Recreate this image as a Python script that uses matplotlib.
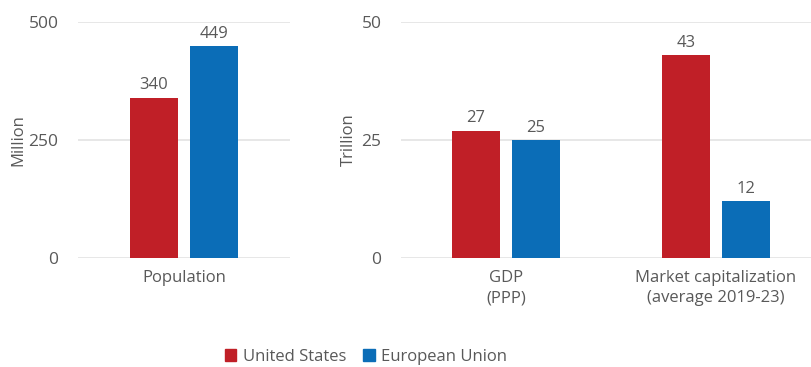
import matplotlib.pyplot as plt
import numpy as np
from matplotlib.patches import Patch

# Values
pop_categories = ["Population"]
pop_us = [340]
pop_eu = [449]

fin_categories = ["GDP\n(PPP)", "Market capitalization\n(average 2019-23)"]
fin_us = [27, 43]
fin_eu = [25, 12]

series_names = ["United States", "European Union"]

RED = "#C01F27"
BLUE = "#0B6DB7"
GRID = "#E3E3E3"
TEXT = "#595959"

plt.rcParams["font.family"] = ["Open Sans", "DejaVu Sans"]
FS = 12

fig = plt.figure(figsize=(8.11, 3.67), dpi=100)

W, H = 811, 367
ax1 = fig.add_axes([78 / W, (H - 258) / H, 212 / W, 236 / H])
ax2 = fig.add_axes([401 / W, (H - 258) / H, 420 / W, 236 / H])

width = 0.225
offset = 0.143


def draw(ax, cats, us, eu, ymax, yticks, ylabel, xlim):
    x = np.arange(len(cats))
    b1 = ax.bar(x - offset, us, width, color=RED, zorder=3)
    b2 = ax.bar(x + offset, eu, width, color=BLUE, zorder=3)
    for bars, vals in ((b1, us), (b2, eu)):
        for rect, v in zip(bars, vals):
            ax.annotate(f"{v}", (rect.get_x() + rect.get_width() / 2, v),
                        xytext=(0, 3), textcoords="offset points",
                        ha="center", va="bottom", color=TEXT, fontsize=FS)
    ax.set_ylim(0, ymax)
    ax.set_xlim(*xlim)
    ax.set_yticks(yticks)
    ax.set_xticks(x)
    ax.set_xticklabels(cats, color=TEXT, fontsize=FS, linespacing=1.3)
    ax.tick_params(axis="y", length=0, colors=TEXT, labelsize=FS + 0.5, pad=14)
    ax.tick_params(axis="x", length=0, colors=TEXT, pad=9)
    ax.grid(axis="y", color=GRID, linewidth=1.2, zorder=0)
    for s in ax.spines.values():
        s.set_visible(False)
    ax.set_ylabel(ylabel, color=TEXT, fontsize=FS)
    ax.set_facecolor("none")


draw(ax1, pop_categories, pop_us, pop_eu, 500, [0, 250, 500], "Million", (-0.5, 0.5))
draw(ax2, fin_categories, fin_us, fin_eu, 50, [0, 25, 50], "Trillion", (-0.5, 1.5))
ax1.yaxis.set_label_coords(-52 / 212, 0.5)
ax2.yaxis.set_label_coords(-44 / 420, 0.5)

handles = [Patch(color=RED), Patch(color=BLUE)]
fig.legend(handles, series_names, loc="center", bbox_to_anchor=(366 / W, (H - 357) / H),
           ncol=2, frameon=False, handlelength=0.7, handleheight=0.7,
           handletextpad=0.4, columnspacing=1.0, labelcolor=TEXT, fontsize=FS)

fig.savefig("out.png", dpi=100)
